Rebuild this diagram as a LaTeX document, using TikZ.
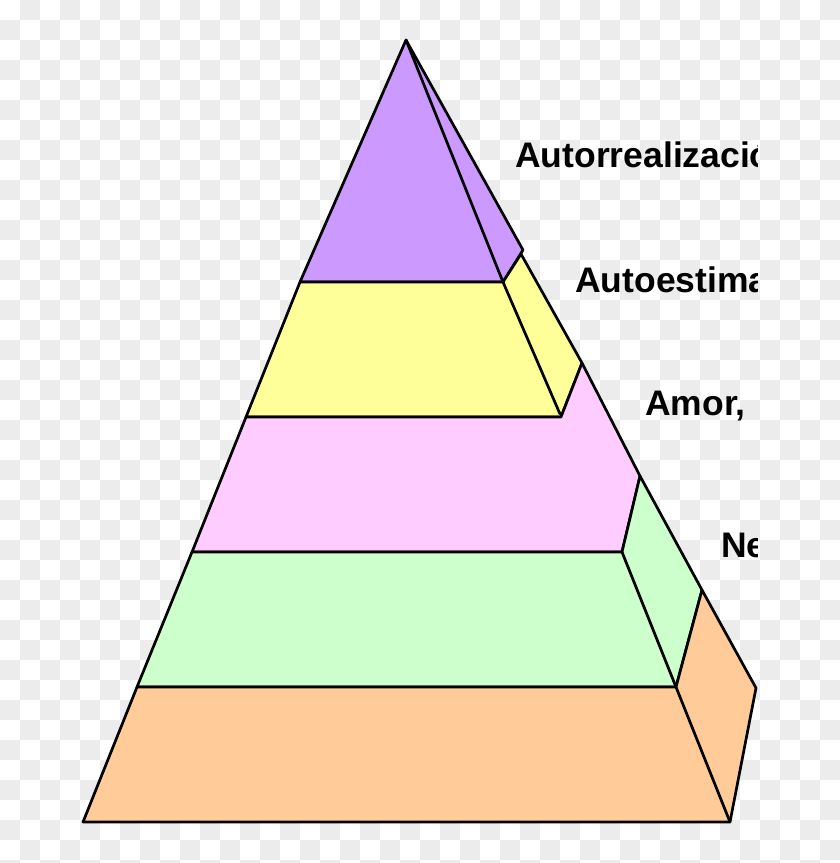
\documentclass[tikz,border=0pt]{standalone}
\usepackage{fontspec}
\setmainfont{Liberation Sans}
\definecolor{bggray}{RGB}{236,236,236}
\definecolor{cpurple}{RGB}{204,153,255}
\definecolor{cyellow}{RGB}{255,255,153}
\definecolor{cpink}{RGB}{255,204,255}
\definecolor{cgreen}{RGB}{204,255,204}
\definecolor{corange}{RGB}{255,204,153}
\tikzset{
  tier/.style={draw=black, line width=2.7pt, line join=round},
  edge/.style={draw=black, line width=2.7pt, line cap=round},
  lbl/.style={anchor=base west, inner sep=0pt, font=\fontsize{35.5}{42}\selectfont\bfseries}
}
\begin{document}
\begin{tikzpicture}[x=1pt,y=-1pt]
\useasboundingbox (0,0) rectangle (840,863);
\begin{scope}
\clip (0,0) rectangle (840,863);
\fill[white] (0,0) rectangle (840,863);
\foreach \i in {0,...,41}{
  \foreach \j in {0,...,43}{
    \pgfmathtruncatemacro\k{\i+\j}
    \ifodd\k \fill[bggray] (\i*20,\j*20) rectangle ++(20,20);\fi
  }
}
\end{scope}
% purple tier
\path[tier, fill=cpurple] (406,40) -- (523,250) -- (503,282) -- (300,282) -- cycle;
\draw[edge] (406,40) -- (503,282);
% yellow tier
\path[tier, fill=cyellow] (300,282) -- (503,282) -- (521,254) -- (582,363) -- (561,417) -- (246,417) -- cycle;
\draw[edge] (503,282) -- (560,414);
% pink tier
\path[tier, fill=cpink] (246,417) -- (561,417) -- (582,363) -- (640,476) -- (622,552) -- (192,552) -- cycle;
% green tier
\path[tier, fill=cgreen] (192,552) -- (622,552) -- (640,476) -- (702,590) -- (676,687) -- (137,687) -- cycle;
\draw[edge] (622,552) -- (676,687);
% orange tier
\path[tier, fill=corange] (137,687) -- (676,687) -- (702,590) -- (756,688) -- (730,822) -- (83,822) -- cycle;
\draw[edge] (676,687) -- (730,822);
% labels, cut at the right as in the reference
\begin{scope}
\clip (0,0) rectangle (757,863);
\node[lbl] (l1) at (515,167) {Autorrealización};
\node[lbl] (l2) at (575,292) {Autoestima};
\node[lbl] (l3) at (645,415) {Amor,};
\node[lbl] (l4) at (721,557) {Ne};
\end{scope}
\end{tikzpicture}
\end{document}
